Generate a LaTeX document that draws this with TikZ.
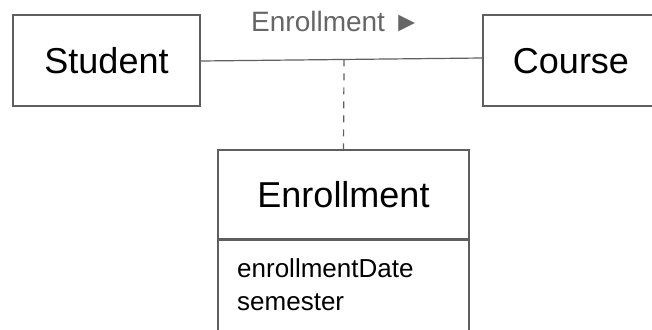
\documentclass[tikz,border=0pt]{standalone}
\usepackage{fontspec}
\setmainfont{Liberation Sans}
\definecolor{edge}{HTML}{5F5F5F}
\definecolor{labelgray}{HTML}{666666}
\begin{document}
\begin{tikzpicture}[x=1pt,y=-1pt,
  classbox/.style={draw=edge,line width=1.2pt,rectangle,inner sep=0pt,
    font=\fontsize{36}{40}\selectfont,text=black},
  assoc/.style={draw=edge,line width=1.2pt},
  dashlink/.style={draw=edge,line width=1.2pt,dash pattern=on 7pt off 7pt},
  attrtext/.style={font=\fontsize{26}{33}\selectfont,align=left,anchor=north west,inner sep=0pt,text=black}]
\useasboundingbox (0,0) rectangle (652,329);
\clip (0,0) rectangle (652,329);
% plain classes
\node[classbox,minimum width=187pt,minimum height=91pt] (student) at (106.5,60.5) {Student};
\node[classbox,minimum width=187pt,minimum height=91pt] (course) at (576.5,60.5) {};
\node[text=black,font=\fontsize{36}{40}\selectfont,inner sep=0pt] (coursename) at (571,61) {Course};
% association class: name compartment and attribute compartment
\node[classbox,minimum width=251pt,minimum height=89pt] (enroll) at (343.5,194.5) {Enrollment};
\node[classbox,anchor=north,minimum width=251pt,minimum height=110pt] (attrs) at (enroll.south) {};
\node[attrtext] (attrlist) at (237,258) {enrollmentDate\\semester};
% association with its name
\path[assoc] ([yshift=-0.5pt]student.east) -- coordinate[pos=0.509] (mid) ([yshift=2.5pt]course.west);
\node[text=labelgray,font=\fontsize{28}{32}\selectfont,inner sep=0pt,anchor=base west] (assocname) at (251,31)
  {Enrollment ►};
% link from the association to its class
\draw[dashlink] (mid) -- (enroll.north);
\end{tikzpicture}
\end{document}
